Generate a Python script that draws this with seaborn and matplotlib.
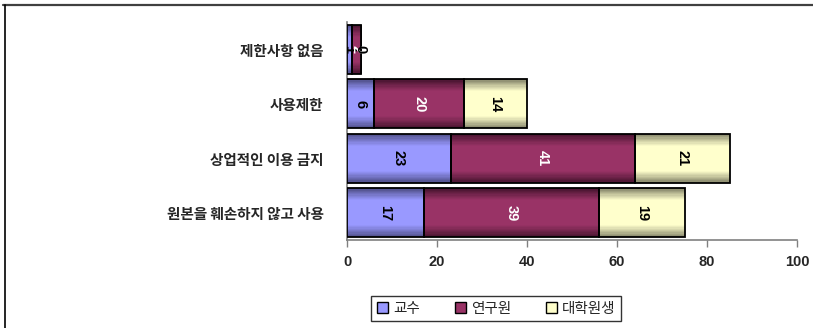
import numpy as np
import pandas as pd
import matplotlib
matplotlib.use("Agg")
import matplotlib.pyplot as plt
from matplotlib.patches import Patch, Rectangle
from matplotlib.collections import PatchCollection
from matplotlib.lines import Line2D
import seaborn as sns

# Survey: permitted use conditions, counted by respondent group
categories = ["제한사항 없음", "사용제한", "상업적인 이용 금지", "원본을 훼손하지 않고 사용"]
series_names = ["교수", "연구원", "대학원생"]
professor = [1, 6, 23, 17]
researcher = [2, 20, 41, 39]
grad_student = [0, 14, 21, 19]
x_ticks = [0, 20, 40, 60, 80, 100]

mid_colors = ["#9999FF", "#993366", "#FFFFCC"]
dark_colors = ["#4A4A80", "#42122B", "#7E7E64"]
label_colors = ["black", "white", "black"]

sns.set_style("white")
plt.rcParams["font.family"] = ["Liberation Sans", "Noto Sans CJK KR", "DejaVu Sans"]

fig = plt.figure(figsize=(8.13, 3.28), dpi=100, facecolor="white")
ax = fig.add_axes([347 / 813, 1 - 240 / 328, 450 / 813, 218 / 328])

df = pd.DataFrame({"구분": categories, "교수": professor,
                   "연구원": researcher, "대학원생": grad_student})

left = np.zeros(len(categories))
groups = []
for name, mid in zip(series_names, mid_colors):
    n_before = len(ax.patches)
    sns.barplot(data=df, x=name, y="구분", left=left.copy(), color=mid,
                width=0.9, errorbar=None, edgecolor="black", linewidth=1.3,
                saturation=1, ax=ax, zorder=3)
    groups.append(list(ax.patches[n_before:]))
    left = left + df[name].to_numpy()

# Shaded fill inside each bar: horizontal bands, darker towards top and bottom
n_bands = 40
t = (np.arange(n_bands) + 0.5) / n_bands
shade = np.clip(np.sin(np.pi * t) * 1.4, 0, 1)
for bars, mid, dark in zip(groups, mid_colors, dark_colors):
    c_mid = np.array(matplotlib.colors.to_rgb(mid))
    c_dark = np.array(matplotlib.colors.to_rgb(dark))
    band_colors = c_dark[None, :] + (c_mid - c_dark)[None, :] * shade[:, None]
    for p in bars:
        x0, y0, w, h = p.get_x(), p.get_y(), p.get_width(), p.get_height()
        if w <= 0:
            continue
        bh = h / n_bands
        rects = [Rectangle((x0, y0 + i * bh), w, bh * 1.05) for i in range(n_bands)]
        pc = PatchCollection(rects, facecolors=band_colors, edgecolors="none",
                             linewidths=0, zorder=3.2)
        ax.add_collection(pc)
        p.set_fill(False)
        p.set_zorder(4)

ax.set_xlim(0, 100)
ax.set_ylim(3.5, -0.5)

# Value labels centred on each segment
for bars, name, lc in zip(groups, series_names, label_colors):
    for p, v in zip(bars, df[name]):
        cx = p.get_x() + p.get_width() / 2
        cy = p.get_y() + p.get_height() / 2
        ax.text(cx, cy, f"{v}", rotation=-90, ha="center", va="center",
                fontsize=10.5, fontweight="bold", color=lc, zorder=5)

ax.set_xlabel("")
ax.set_ylabel("")
ax.set_xticks(x_ticks)
ax.set_xticklabels([str(v) for v in x_ticks], fontsize=10.5, fontweight="bold")
ax.set_yticks(range(len(categories)))
ax.set_yticklabels(categories, fontsize=10.5, fontweight="bold",
                   family=["Noto Sans CJK KR", "DejaVu Sans"])
ax.tick_params(axis="x", length=5, width=1, color="#808080", pad=6,
               direction="out", bottom=True)
ax.tick_params(axis="y", length=0, pad=17)
for s in ["top", "right"]:
    ax.spines[s].set_visible(False)
for s in ["left", "bottom"]:
    ax.spines[s].set_color("#808080")
    ax.spines[s].set_linewidth(1.2)

handles = [Patch(facecolor=c, edgecolor="black", linewidth=1) for c in mid_colors]
leg = fig.legend(handles, series_names, loc="center",
                 bbox_to_anchor=(496 / 813, 1 - 308.5 / 328), ncol=3,
                 frameon=True, fancybox=False, edgecolor="black",
                 prop={"family": ["Noto Sans CJK KR", "DejaVu Sans"], "size": 10.5},
                 handlelength=0.8, handleheight=0.8, handletextpad=0.3,
                 columnspacing=2.4, borderpad=0.4, borderaxespad=0)
leg.get_frame().set_linewidth(1)

# Outer chart-area frame
fig.add_artist(Line2D([3 / 813, 1], [1 - 5 / 328, 1 - 5 / 328],
                      transform=fig.transFigure, color="#404040", linewidth=1.6))
fig.add_artist(Line2D([5 / 813, 5 / 813], [0, 1 - 5 / 328],
                      transform=fig.transFigure, color="black", linewidth=1.2))

fig.savefig("out.png", dpi=100)
